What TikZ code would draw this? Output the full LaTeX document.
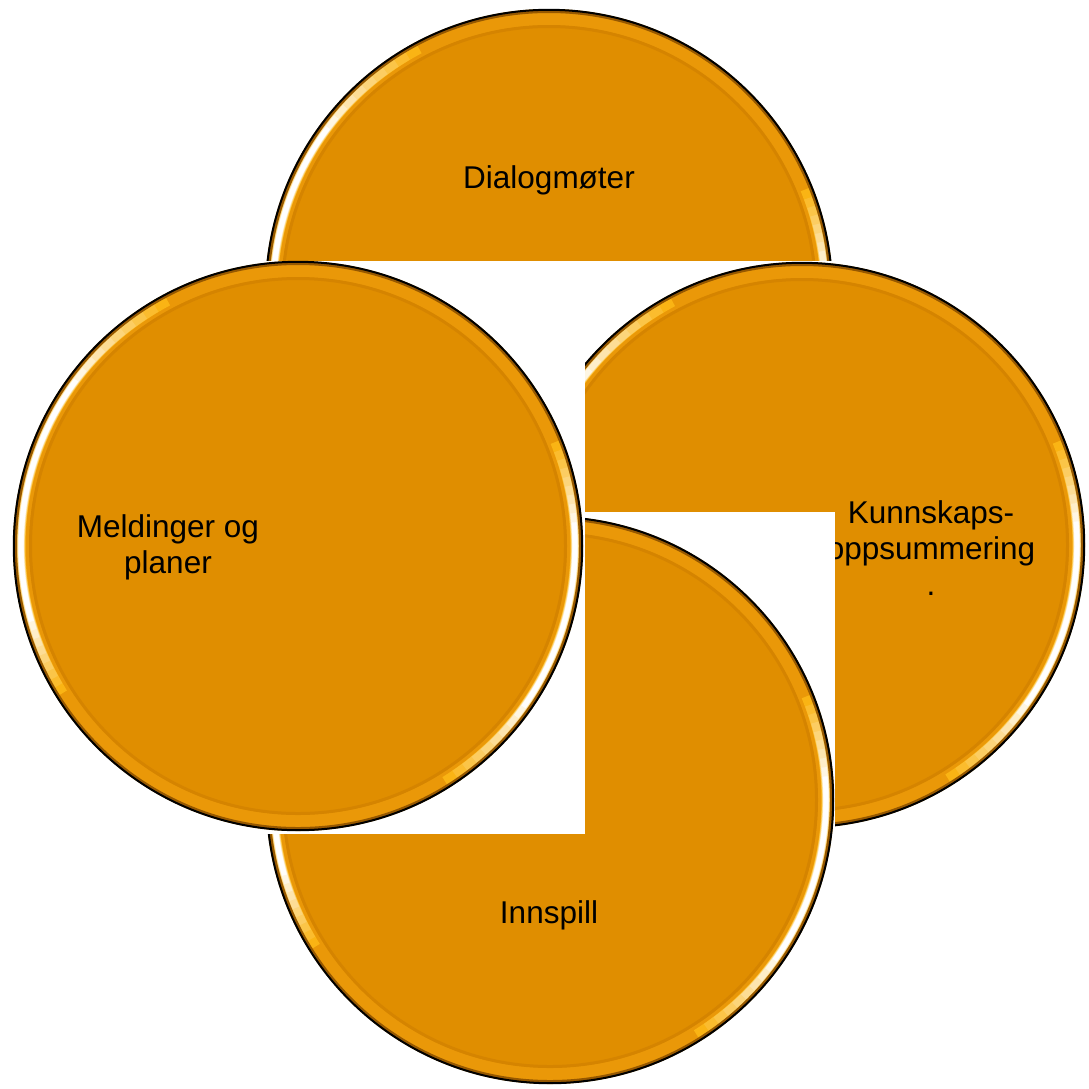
\documentclass[tikz,border=0pt]{standalone}
\usepackage{fontspec}
\setmainfont{Liberation Sans}
\definecolor{coinbase}{RGB}{224,142,0}
\definecolor{coinring}{RGB}{234,152,8}
\definecolor{coindark}{RGB}{204,124,0}
\definecolor{coinshadow}{RGB}{150,88,0}
\definecolor{hlbase}{RGB}{250,180,20}
\tikzset{
  lbl/.style={font=\fontsize{31.5}{36}\selectfont, align=center, text=black, inner sep=0pt},
  blank/.style={fill=white, draw=none}
}
\newcommand\drawcoin[2]{%
  \fill[coinbase] (#1) circle[radius=#2pt];
  \draw[coinring, line width=14pt] (#1) circle[radius=#2pt-9pt];
  \draw[coindark, line width=3pt, opacity=0.55] (#1) circle[radius=#2pt-17.5pt];
  \foreach \k in {0,...,11}{%
    \pgfmathsetmacro\pw{min(100,\k*11)}%
    \pgfmathsetmacro\lw{9-0.45*\k}%
    \pgfmathsetmacro\aA{118+2.8*\k}%
    \pgfmathsetmacro\aB{212-1.8*\k}%
    \pgfmathsetmacro\aC{-58+2.5*\k}%
    \pgfmathsetmacro\aD{22-1.9*\k}%
    \colorlet{hlcur}{white!\pw!hlbase}%
    \draw[hlcur, line width=\lw pt] (#1) ++(\aA:#2pt-8pt) arc[start angle=\aA, end angle=\aB, radius=#2pt-8pt];
    \draw[hlcur, line width=\lw pt] (#1) ++(\aC:#2pt-8pt) arc[start angle=\aC, end angle=\aD, radius=#2pt-8pt];
  }
  \draw[coinshadow, line width=3pt] (#1) circle[radius=#2pt-2.5pt];
  \draw[black, line width=2pt] (#1) circle[radius=#2pt-0.8pt];
}
\begin{document}
\begin{tikzpicture}[x=1pt, y=-1pt]
\useasboundingbox[fill=white] (0,0) rectangle (1089,1088);
\coordinate (cT) at (549,293);
\coordinate (cR) at (802,545);
\coordinate (cB) at (550,800);
\coordinate (cL) at (298,546);
% top
\begin{scope}
  \clip (0,0) rectangle (1089,260.5);
  \drawcoin{cT}{284}
\end{scope}
\node[lbl] (tT) at (549,180) {Dialogmøter};
% right
\drawcoin{cR}{283}
\node[lbl] (tR) at (931,548) {Kunnskaps-\\oppsummering\\.};
\fill[blank] (585,512) rectangle (835,832);
\fill[blank] (500,261.5) rectangle (585,512);
% bottom
\drawcoin{cB}{284}
\node[lbl] (tB) at (549,915) {Innspill};
\fill[blank] (255,512) rectangle (585,833.5);
% left
\drawcoin{cL}{285}
\node[lbl] (tL) at (168,547) {Meldinger og\\planer};
\end{tikzpicture}
\end{document}
